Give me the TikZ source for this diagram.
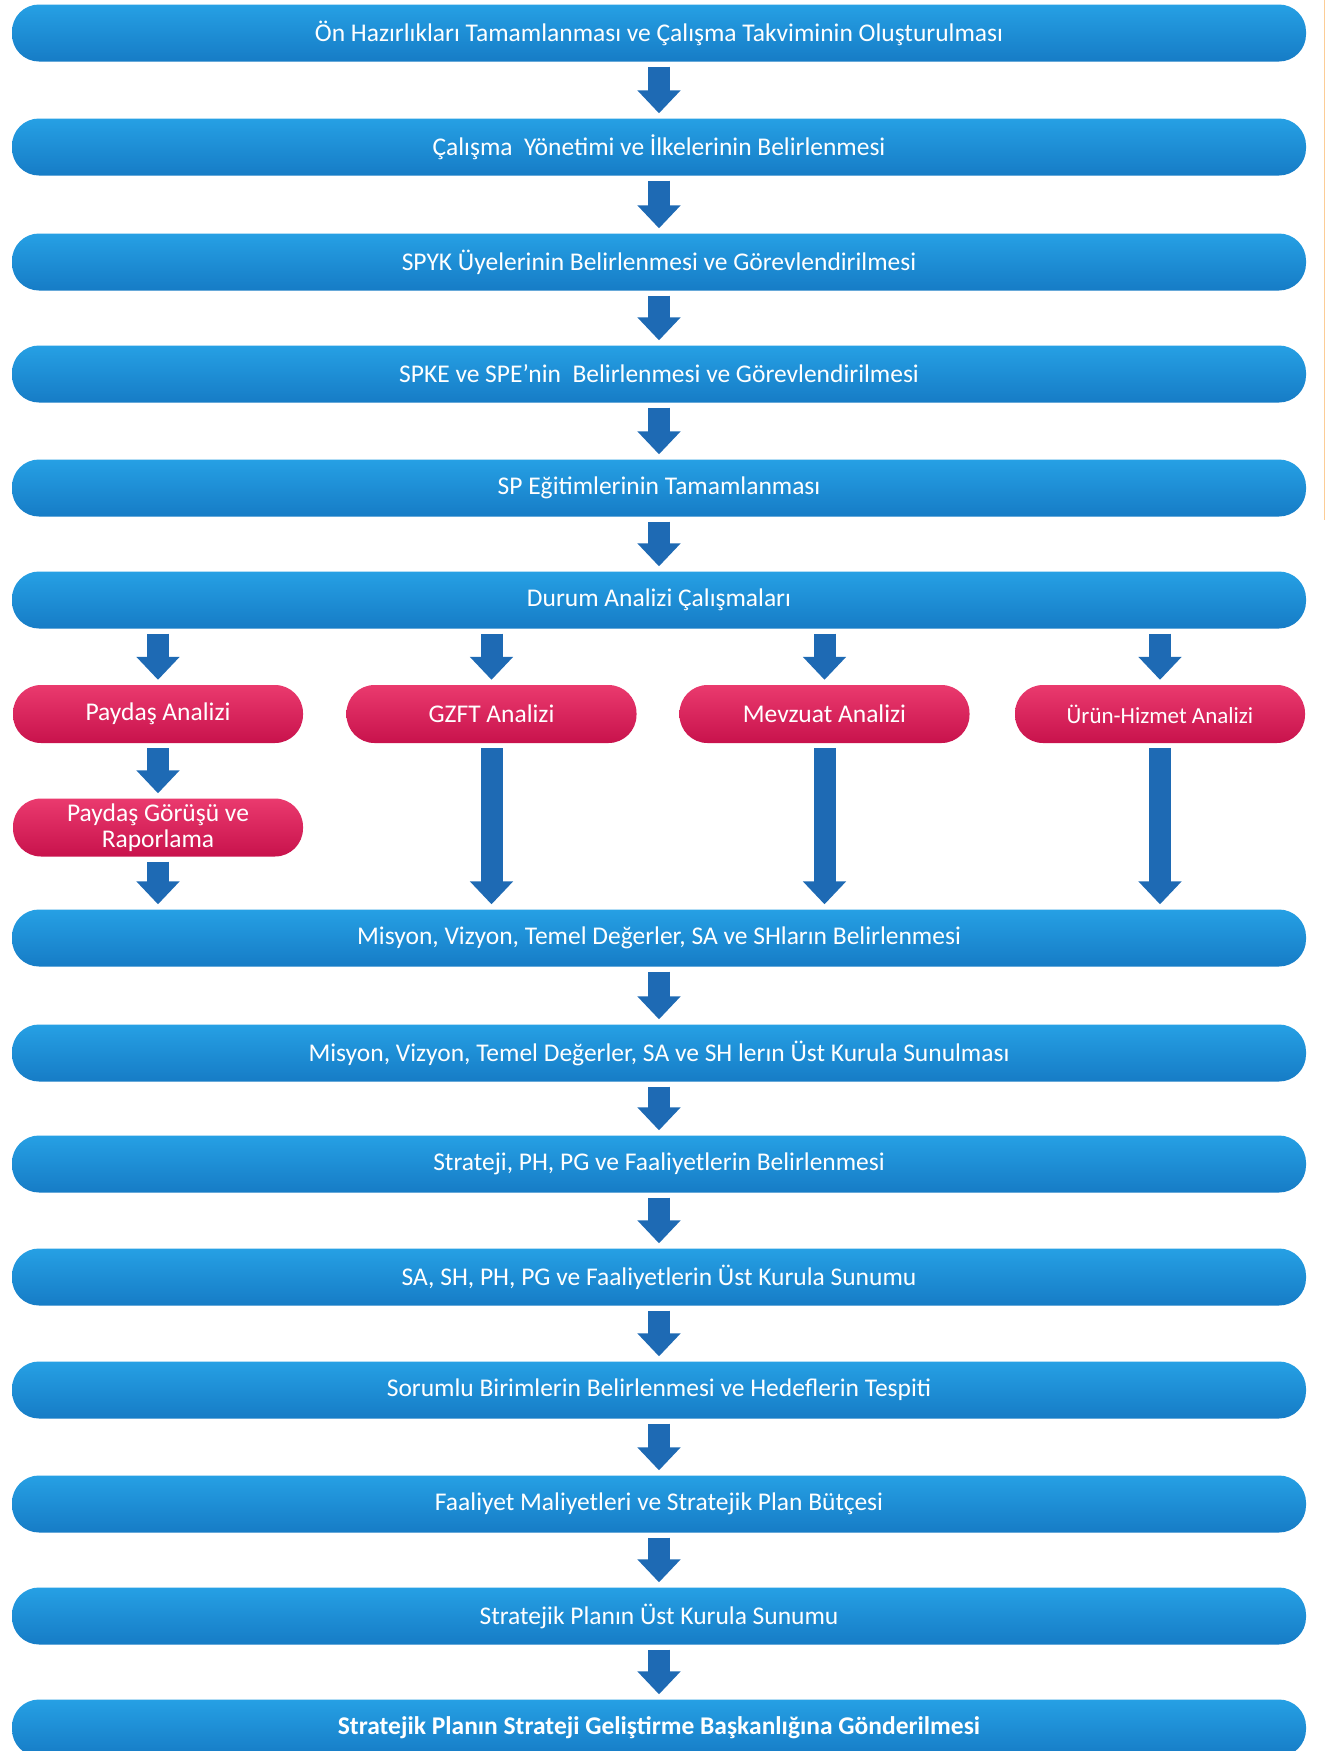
\documentclass[tikz,border=0pt]{standalone}
\usepackage{fontspec}
\setmainfont{Carlito}
\usetikzlibrary{arrows.meta}
\definecolor{bartop}{RGB}{38,160,228}
\definecolor{barbot}{RGB}{22,124,198}
\definecolor{redtop}{RGB}{234,58,110}
\definecolor{redbot}{RGB}{200,18,76}
\definecolor{arrowc}{RGB}{30,106,180}
\definecolor{edgeline}{RGB}{252,205,150}
\begin{document}
\begin{tikzpicture}[x=1pt,y=-1pt,
  bar/.style={rounded corners=27pt, minimum width=1294pt, minimum height=57pt,
    top color=bartop, bottom color=barbot, draw=none, text=white, inner sep=0pt,
    font=\fontsize{25.5}{29}\selectfont},
  redbox/.style={rounded corners=28pt, minimum width=290pt, minimum height=58pt,
    top color=redtop, bottom color=redbot, draw=none, text=white, inner sep=0pt,
    align=center, font=\fontsize{25.5}{26}\selectfont},
  arr/.style={draw=arrowc, line width=22pt, -{Triangle[width=42pt,length=23pt]},
    shorten <=5pt, shorten >=5pt}]
\path[use as bounding box] (0,0) rectangle (1326,1751);
\clip (0,0) rectangle (1326,1751);
\fill[white] (0,0) rectangle (1326,1751);
\draw[edgeline, line width=1.5pt] (1324.5,0) -- (1324.5,520);

\node[bar] (b1)  at (659,33)   {Ön Hazırlıkları Tamamlanması ve Çalışma Takviminin Oluşturulması};
\node[bar] (b2)  at (659,147)  {Çalışma\ \ Yönetimi ve İlkelerinin Belirlenmesi};
\node[bar] (b3)  at (659,262)  {SPYK Üyelerinin Belirlenmesi ve Görevlendirilmesi};
\node[bar] (b4)  at (659,374)  {SPKE ve SPE’nin\ \ Belirlenmesi ve Görevlendirilmesi};
\node[bar] (b5)  at (659,488)  {SP Eğitimlerinin Tamamlanması};
\node[bar] (b6)  at (659,600)  {Durum Analizi Çalışmaları};
\node[bar] (b7)  at (659,938)  {Misyon, Vizyon, Temel Değerler, SA ve SHların Belirlenmesi};
\node[bar] (b8)  at (659,1053) {Misyon, Vizyon, Temel Değerler, SA ve SH lerın Üst Kurula Sunulması};
\node[bar] (b9)  at (659,1164) {Strateji, PH, PG ve Faaliyetlerin Belirlenmesi};
\node[bar] (b10) at (659,1277) {SA, SH, PH, PG ve Faaliyetlerin Üst Kurula Sunumu};
\node[bar] (b11) at (659,1390) {Sorumlu Birimlerin Belirlenmesi ve Hedeflerin Tespiti};
\node[bar] (b12) at (659,1504) {Faaliyet Maliyetleri ve Stratejik Plan Bütçesi};
\node[bar] (b13) at (659,1616) {Stratejik Planın Üst Kurula Sunumu};
\node[bar] (b14) at (659,1728) {\bfseries Stratejik Planın Strateji Geliştirme Başkanlığına Gönderilmesi};

\node[redbox] (r1) at (158,714)   {Paydaş Analizi};
\node[redbox] (r2) at (491.5,714) {GZFT Analizi};
\node[redbox] (r3) at (824.5,714) {Mevzuat Analizi};
\node[redbox, font=\fontsize{23}{26}\selectfont] (r4) at (1160,714) {Ürün-Hizmet Analizi};
\node[redbox] (r5) at (158,827.5) {Paydaş Görüşü ve\\Raporlama};

\foreach \a/\b in {b1/b2,b2/b3,b3/b4,b4/b5,b5/b6,b7/b8,b8/b9,b9/b10,b10/b11,b11/b12,b12/b13,b13/b14}
  \draw[arr] (\a.south) -- (\b.north);
\foreach \r in {r1,r2,r3,r4}
  \draw[arr] (\r.north |- b6.south) -- (\r.north);
\draw[arr] (r1.south) -- (r5.north);
\foreach \r in {r5,r2,r3,r4}
  \draw[arr] (\r.south) -- (\r.south |- b7.north);
\end{tikzpicture}
\end{document}
